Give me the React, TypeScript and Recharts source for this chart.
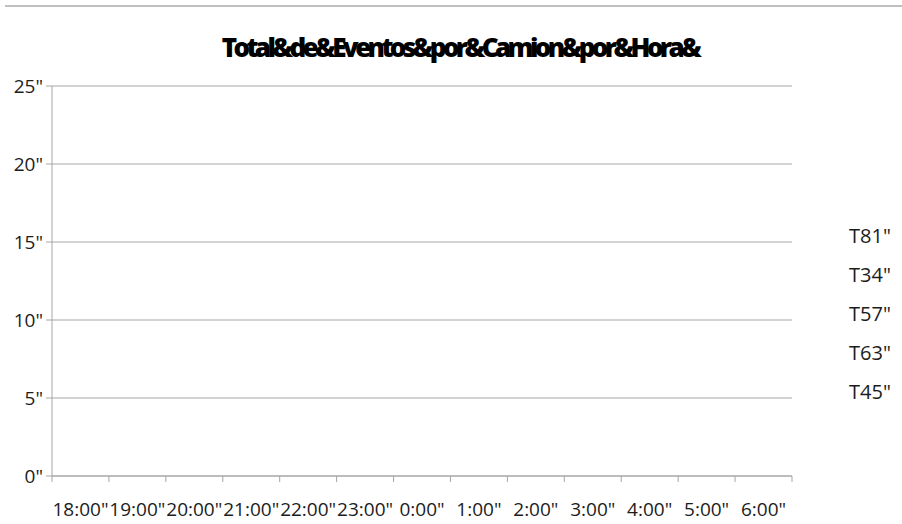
import { BarChart, Bar, XAxis, YAxis, CartesianGrid } from "recharts";

const HOURS = [
  "18:00", "19:00", "20:00", "21:00", "22:00", "23:00", "0:00",
  "1:00", "2:00", "3:00", "4:00", "5:00", "6:00",
];

// one entry per truck; no events were logged in any hour
const T45 = [0, 0, 0, 0, 0, 0, 0, 0, 0, 0, 0, 0, 0];
const T63 = [0, 0, 0, 0, 0, 0, 0, 0, 0, 0, 0, 0, 0];
const T57 = [0, 0, 0, 0, 0, 0, 0, 0, 0, 0, 0, 0, 0];
const T34 = [0, 0, 0, 0, 0, 0, 0, 0, 0, 0, 0, 0, 0];
const T81 = [0, 0, 0, 0, 0, 0, 0, 0, 0, 0, 0, 0, 0];

const SERIES = [
  { key: "T45", values: T45, color: "#4f81bd" },
  { key: "T63", values: T63, color: "#c0504d" },
  { key: "T57", values: T57, color: "#9bbb59" },
  { key: "T34", values: T34, color: "#8064a2" },
  { key: "T81", values: T81, color: "#4bacc6" },
];

const Y_TICKS = [0, 5, 10, 15, 20, 25];

const TITLE = "Total&de&Eventos&por&Camion&por&Hora&";

const data = HOURS.map((hora, i) => {
  const row: Record<string, string | number> = { hora };
  SERIES.forEach((s) => {
    row[s.key] = s.values[i];
  });
  return row;
});

const FONT = "'Open Sans', sans-serif";
const GRID = "#a6a6a6";
const TEXT = "#1c1c1c";

// hour label centred in its column, with tick marks on the column edges
const HourTick = (props: any) => {
  const { x, y, payload, index, visibleTicksCount } = props;
  const half = payload.offset ?? 0;
  const last = index === visibleTicksCount - 1;
  return (
    <g>
      <line x1={x - half} x2={x - half} y1={y} y2={y + 6} stroke={GRID} />
      {last && <line x1={x + half} x2={x + half} y1={y} y2={y + 6} stroke={GRID} />}
      <text
        x={x}
        y={y + 40}
        textAnchor="middle"
        fill={TEXT}
        style={{ fontSize: 19, fontFamily: FONT }}
      >
        {`${payload.value}"`}
      </text>
    </g>
  );
};

export default function App() {
  return (
    <div
      style={{
        position: "absolute",
        top: 0,
        left: 0,
        width: 902,
        height: 524,
        background: "#fff",
        fontFamily: FONT,
      }}
    >
      <div
        style={{
          position: "absolute",
          top: 5,
          left: 5,
          right: 0,
          height: 2,
          background: "#c0c0c0",
        }}
      />
      <BarChart
        width={902}
        height={524}
        data={data}
        margin={{ top: 86, right: 110, bottom: 0, left: 0 }}
        barCategoryGap="40%"
      >
        <text
          x={460}
          y={57}
          textAnchor="middle"
          style={{
            fontFamily: FONT,
            fontWeight: 800,
            fontSize: 26,
            letterSpacing: -3.6,
            fill: "#000",
          }}
        >
          {TITLE}
        </text>
        <CartesianGrid vertical={false} stroke={GRID} />
        <XAxis
          dataKey="hora"
          height={48}
          axisLine={{ stroke: GRID }}
          tickLine={false}
          tickSize={0}
          tickMargin={0}
          interval={0}
          tick={<HourTick />}
        />
        <YAxis
          width={52}
          domain={[0, 25]}
          ticks={Y_TICKS}
          axisLine={{ stroke: GRID }}
          tickLine={{ stroke: GRID }}
          tickSize={6}
          tickMargin={3}
          tickFormatter={(v) => `${v}"`}
          tick={{ fill: TEXT, fontSize: 19, fontFamily: FONT }}
        />
        {SERIES.map((s) => (
          <Bar
            key={s.key}
            dataKey={s.key}
            stackId="eventos"
            fill={s.color}
            isAnimationActive={false}
          />
        ))}
      </BarChart>
      <div style={{ position: "absolute", left: 849, top: 218 }}>
        {[...SERIES].reverse().map((s) => (
          <div
            key={s.key}
            style={{ height: 39, lineHeight: "36px", fontSize: 20, color: TEXT }}
          >
            {s.key}"
          </div>
        ))}
      </div>
    </div>
  );
}
